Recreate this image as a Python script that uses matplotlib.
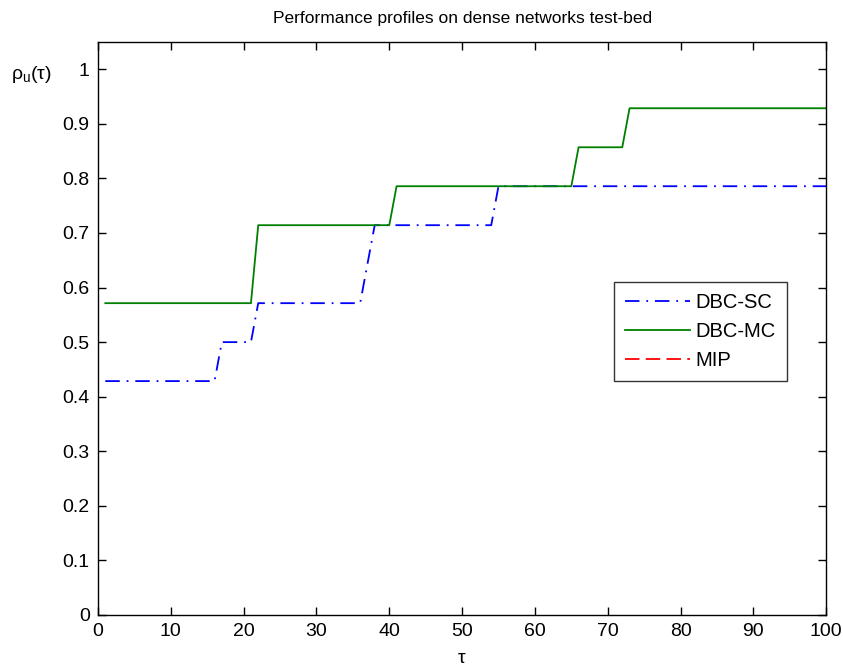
import matplotlib
matplotlib.use("Agg")
import matplotlib.pyplot as plt

# performance profile data (14 instances)
tau_sc = [1, 16, 17, 21, 22, 36, 37, 38, 54, 55, 100]
rho_sc = [0.4286, 0.4286, 0.5, 0.5, 0.5714, 0.5714, 0.6429, 0.7143, 0.7143, 0.7857, 0.7857]

tau_mc = [1, 21, 22, 40, 41, 65, 66, 72, 73, 100]
rho_mc = [0.5714, 0.5714, 0.7143, 0.7143, 0.7857, 0.7857, 0.8571, 0.8571, 0.9286, 0.9286]

# MIP has no points visible on the chart
tau_mip = []
rho_mip = []

x_ticks = list(range(0, 101, 10))
y_ticks = [0, 0.1, 0.2, 0.3, 0.4, 0.5, 0.6, 0.7, 0.8, 0.9, 1]
y_labels = ["0", "0.1", "0.2", "0.3", "0.4", "0.5", "0.6", "0.7", "0.8", "0.9", "1"]

plt.rcParams['font.family'] = ['Liberation Sans', 'DejaVu Sans']
plt.rcParams['mathtext.fontset'] = 'custom'
plt.rcParams['mathtext.rm'] = 'Liberation Sans'

fig = plt.figure(figsize=(8.43, 6.71), dpi=100)
ax = fig.add_axes([0.1163, 0.0835, 0.8637, 0.8539])

# matlab-ish dash patterns
ax.plot(tau_sc, rho_sc, color=(0, 0, 1), linestyle=(0, (8, 3.8, 1, 3.8)), lw=1.3, label='DBC-SC')
ax.plot(tau_mc, rho_mc, color=(0, 0.5, 0), linestyle='-', lw=1.3, label='DBC-MC')
ax.plot(tau_mip, rho_mip, color=(1, 0, 0), linestyle=(0, (8, 3.5)), lw=1.3, label='MIP')

ax.set_xlim(0, 100)
ax.set_ylim(0, 1.05)
ax.set_xticks(x_ticks)
ax.set_yticks(y_ticks)
ax.set_yticklabels(y_labels)
ax.tick_params(direction='in', length=6, width=1, top=True, right=True, labelsize=14, pad=6)
for s in ax.spines.values():
    s.set_linewidth(1)

ax.set_title("Performance profiles on dense networks test-bed", fontsize=12.5, pad=14)
ax.set_xlabel(r"$\mathregular{\tau}$", fontsize=14)
ax.xaxis.set_label_coords(0.5, -0.062)
ax.set_ylabel(r"$\mathregular{\rho_u(\tau)}$", fontsize=14, rotation=0)
ax.yaxis.set_label_coords(-0.092, 0.925)

leg = ax.legend(loc='upper left', bbox_to_anchor=(0.709, 0.581), borderaxespad=0,
                fontsize=14.5, frameon=True, fancybox=False, edgecolor='black',
                handlelength=3.2, borderpad=0.55, labelspacing=0.5, handletextpad=0.3)
leg.get_frame().set_linewidth(1)

fig.savefig("out.png", dpi=100)
